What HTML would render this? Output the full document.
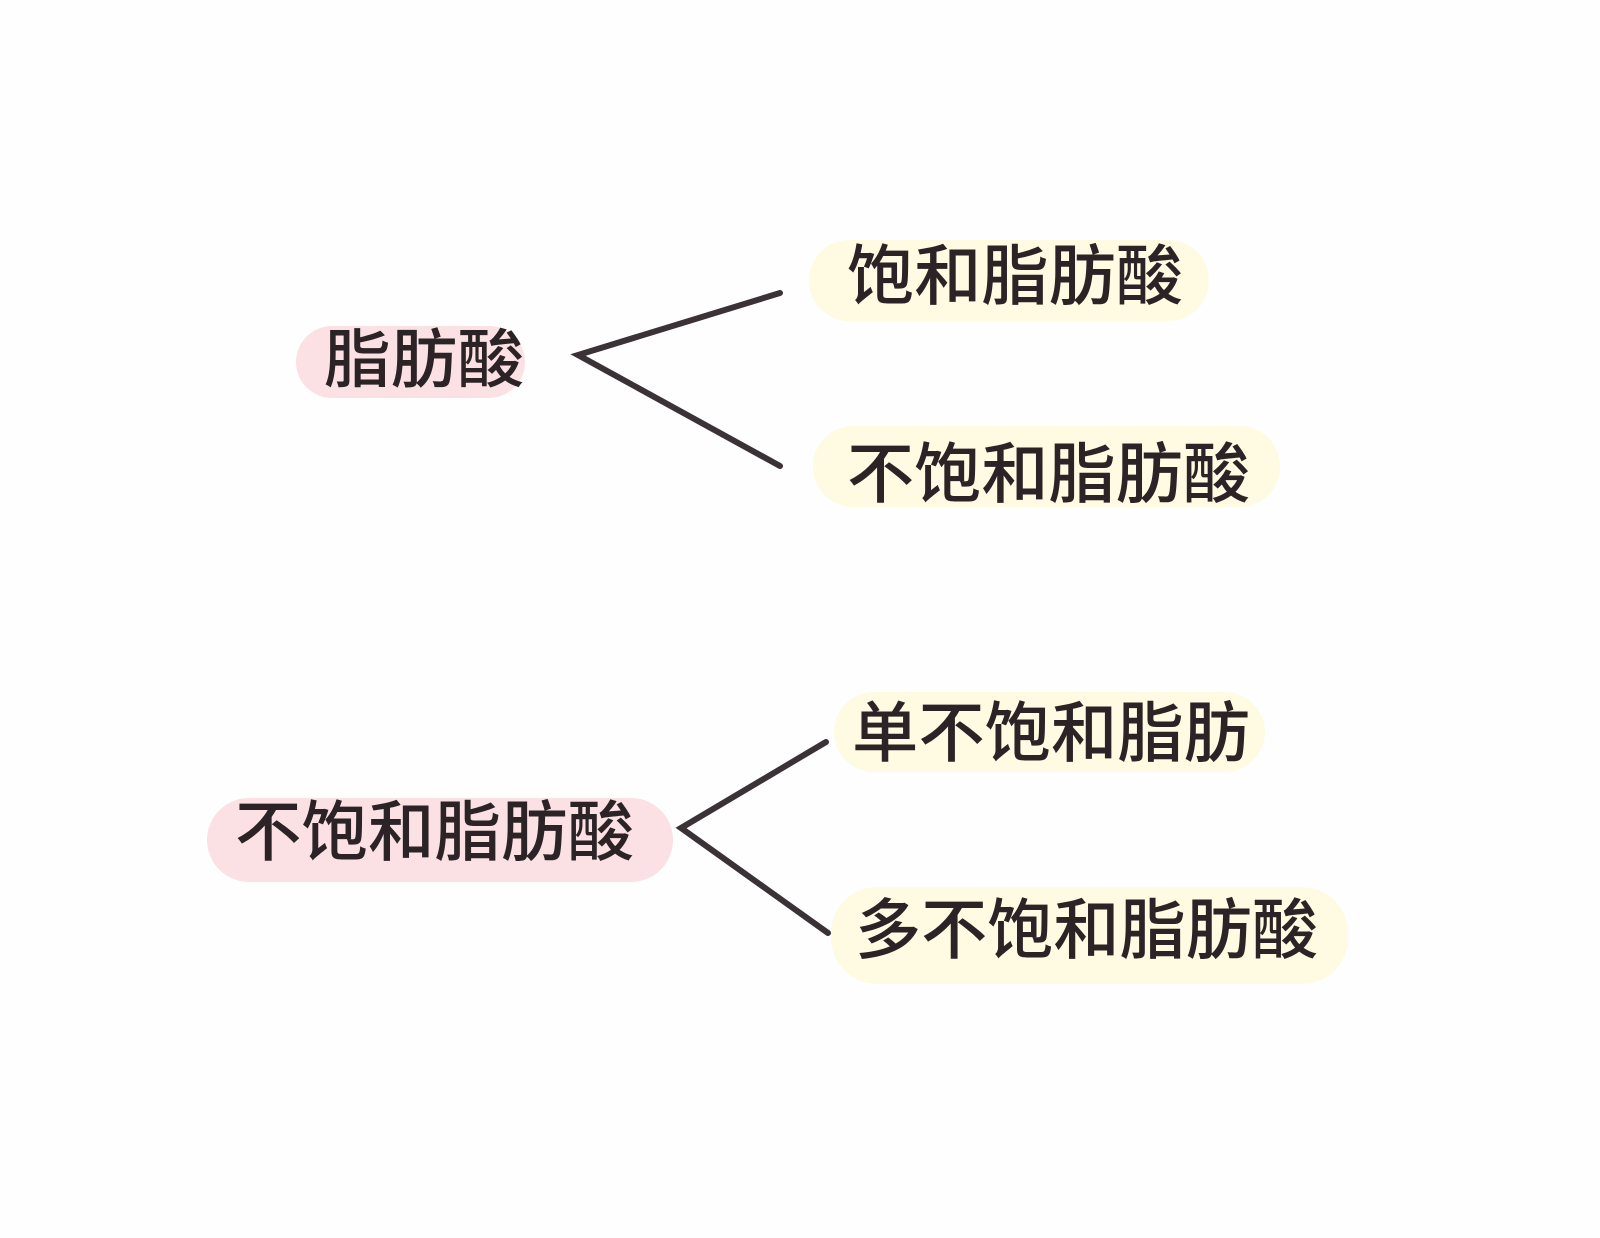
<!DOCTYPE html>
<html><head><meta charset="utf-8"><style>
html,body{margin:0;padding:0;background:#fff;}
svg{display:block;}
text{font-family:"Liberation Sans","Noto Sans CJK SC",sans-serif;font-weight:500;fill:#2b2326;dominant-baseline:central;}
</style></head><body>
<svg width="1600" height="1238" viewBox="0 0 1600 1238" xmlns="http://www.w3.org/2000/svg">
<rect width="1600" height="1238" fill="#fefefe"/>
<!-- pills -->
<rect x="296" y="326" width="229" height="72" rx="36" fill="#fbe1e3"/>
<rect x="809" y="240" width="400" height="81" rx="40" fill="#fefbe2"/>
<rect x="813" y="426" width="467" height="81" rx="40" fill="#fefbe2"/>
<rect x="207" y="798" width="466" height="84" rx="42" fill="#fbe1e3"/>
<rect x="834" y="692" width="431" height="80" rx="40" fill="#fefbe2"/>
<rect x="831" y="887" width="517" height="97" rx="46" fill="#fefbe2"/>
<!-- lines -->
<g stroke="#3a3236" stroke-width="6" stroke-linecap="round" fill="none">
<path d="M780 293 L578 355 L780 466"/>
<path d="M826 742 L681 828 L828 933"/>
</g>
<!-- text -->
<text x="324" y="360" font-size="64" textLength="200" lengthAdjust="spacingAndGlyphs">脂肪酸</text>
<text x="847" y="276" font-size="66" textLength="336" lengthAdjust="spacingAndGlyphs">饱和脂肪酸</text>
<text x="847" y="474" font-size="66" textLength="403" lengthAdjust="spacingAndGlyphs">不饱和脂肪酸</text>
<text x="235" y="832" font-size="66" textLength="399" lengthAdjust="spacingAndGlyphs">不饱和脂肪酸</text>
<text x="852" y="733" font-size="66" textLength="398" lengthAdjust="spacingAndGlyphs">单不饱和脂肪</text>
<text x="855" y="930" font-size="66" textLength="463" lengthAdjust="spacingAndGlyphs">多不饱和脂肪酸</text>
</svg>
</body></html>
